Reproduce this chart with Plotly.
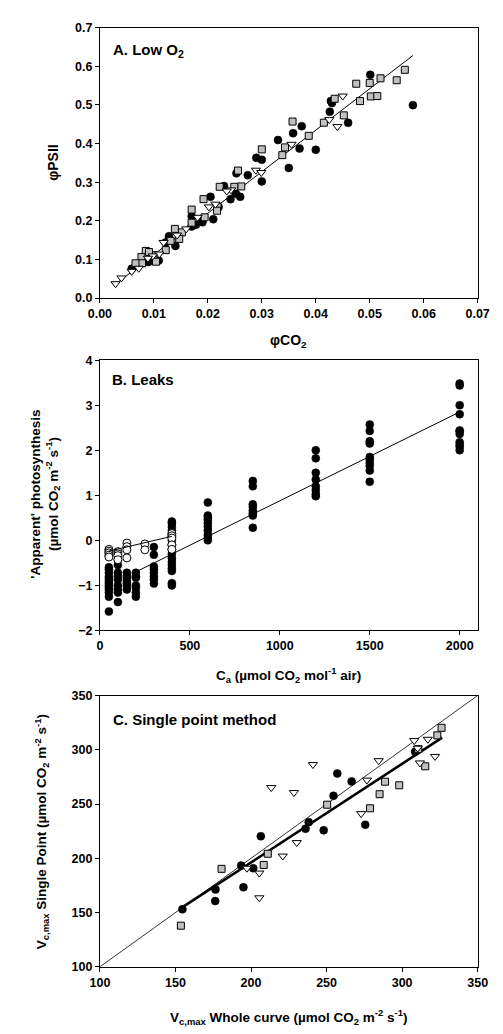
import plotly.graph_objects as go

# ---------------- Panel A data ----------------
a_circ_x = [0.0501, 0.058, 0.0428, 0.0430, 0.0426, 0.046, 0.0374, 0.0358, 0.033, 0.037, 0.040, 0.035,
            0.029, 0.030, 0.030, 0.0274, 0.0253, 0.023, 0.0205, 0.021, 0.0242, 0.0252, 0.026, 0.022,
            0.019, 0.0178, 0.017, 0.017, 0.0128, 0.014, 0.0122, 0.0109, 0.009, 0.0069, 0.0059]
a_circ_y = [0.578, 0.4995, 0.51, 0.505, 0.4826, 0.4537, 0.445, 0.427, 0.409, 0.387, 0.384, 0.337,
            0.363, 0.358, 0.302, 0.318, 0.323, 0.29, 0.262, 0.204, 0.256, 0.27, 0.262, 0.236,
            0.196, 0.19, 0.185, 0.212, 0.16, 0.135, 0.144, 0.097, 0.093, 0.083, 0.076]

a_sq_x = [0.0565, 0.055, 0.052, 0.050, 0.0475, 0.0502, 0.0514, 0.0482, 0.0435, 0.0452, 0.0415, 0.0357,
          0.0387, 0.0343, 0.0338, 0.030, 0.0256, 0.0262, 0.0249, 0.0222, 0.0218, 0.0217, 0.0192, 0.0194,
          0.017, 0.017, 0.0152, 0.0147, 0.0139, 0.0131, 0.0122, 0.0099, 0.0085, 0.0091, 0.0077, 0.0078,
          0.0066, 0.0104]
a_sq_y = [0.591, 0.564, 0.569, 0.557, 0.555, 0.522, 0.523, 0.51, 0.516, 0.473, 0.454, 0.457,
          0.42, 0.39, 0.37, 0.385, 0.33, 0.289, 0.288, 0.288, 0.236, 0.226, 0.256, 0.209,
          0.229, 0.195, 0.17, 0.153, 0.179, 0.148, 0.124, 0.111, 0.122, 0.119, 0.106, 0.09,
          0.09, 0.094]

a_tri_x = [0.045, 0.0425, 0.044, 0.0355, 0.0289, 0.0299, 0.0243, 0.0235, 0.0214, 0.0202, 0.0181,
           0.016, 0.0143, 0.0118, 0.011, 0.0098, 0.0089, 0.0072, 0.0059, 0.004, 0.0029]
a_tri_y = [0.523, 0.462, 0.444, 0.398, 0.331, 0.325, 0.28, 0.277, 0.243, 0.236, 0.209,
           0.179, 0.163, 0.144, 0.114, 0.109, 0.103, 0.077, 0.069, 0.052, 0.037]

a_fit_x = [0.003, 0.058]
a_fit_y = [0.037, 0.628]

# ---------------- Panel B data ----------------
b_cols = {
    50: [-0.6, -0.65, -0.72, -0.8, -0.85, -0.9, -0.95, -1.0, -1.05, -1.1, -1.16, -1.25, -1.58],
    100: [-0.43, -0.55, -0.72, -0.8, -0.87, -1.0, -1.09, -1.16, -1.37],
    150: [-0.72, -0.78, -0.83, -0.9, -0.95, -1.01, -1.09],
    200: [-0.72, -0.8, -0.83, -1.0, -1.05, -1.16, -1.25],
    300: [-0.15, -0.32, -0.58, -0.65, -0.72, -0.8, -0.87, -0.96],
    400: [0.42, 0.38, 0.3, 0.22, 0.15, 0.08, 0.0, -0.1, -0.2, -0.3, -0.4, -0.48, -0.55, -0.62,
          -0.68, -0.95, -1.0],
    600: [0.84, 0.55, 0.5, 0.45, 0.38, 0.3, 0.22, 0.12, 0.05, 0.0],
    850: [1.32, 1.2, 0.8, 0.74, 0.66, 0.6, 0.55, 0.28],
    1200: [2.0, 1.82, 1.5, 1.35, 1.2, 1.12, 1.03, 0.98],
    1500: [2.57, 2.43, 2.2, 2.15, 1.85, 1.8, 1.72, 1.65, 1.55, 1.3],
    2000: [3.48, 3.44, 3.0, 2.8, 2.44, 2.42, 2.36, 2.18, 2.12, 2.08, 2.0],
}
b_open = {
    50: [-0.2, -0.24, -0.28, -0.33, -0.37],
    100: [-0.25, -0.3, -0.34, -0.43],
    150: [-0.06, -0.14, -0.21, -0.39],
    250: [-0.08, -0.21],
    400: [0.15, 0.1, 0.05, -0.1, -0.2],
}
b_fit_x = [200, 2000]
b_fit_y = [-0.70, 2.85]
b_open_fit_x = [50, 400]
b_open_fit_y = [-0.24, 0.09]

# ---------------- Panel C data ----------------
c_circ_x = [154.6, 176.5, 176.3, 195, 193.5, 201.5, 206.5, 236.1, 238.2, 248.1, 254.6, 257.1, 266.6, 275.6, 308.6]
c_circ_y = [153, 171.2, 160.6, 173.3, 193.3, 190.9, 220.3, 227.3, 233.3, 225.8, 257.6, 278.2, 270.9, 230.9, 298.2]

c_sq_x = [153.6, 180.5, 211.1, 208.4, 250.4, 278.8, 285.1, 288.7, 298.1, 315.3, 310.7, 323.3, 326.1]
c_sq_y = [137.9, 190.3, 204.2, 193.9, 249.4, 246.1, 259.1, 270.6, 267.3, 284.8, 300.6, 313.3, 320.3]

c_tri_x = [213.4, 228.4, 241, 230.3, 221, 197.3, 205.5, 205.5, 272.9, 276.7, 284.5, 308, 317, 311.8, 321.8, 310.3]
c_tri_y = [265.2, 260.6, 286.4, 214.5, 202.1, 190.9, 186.4, 163.6, 241.2, 272.1, 290, 308.5, 309.7, 287.9, 293.9, 301.5]

c_one_x = [100, 350]
c_one_y = [100, 350]
c_fit_x = [154.2, 326.5]
c_fit_y = [154.5, 311.2]

# ---------------- figure ----------------
W, H = 503, 1034
FONT = "Liberation Sans, Arial, sans-serif"
GRAY = "#c0c0c0"

fig = go.Figure()

def circ(size=8):
    return dict(symbol="circle", size=size, color="black", line=dict(color="black", width=0.5))

def sq():
    return dict(symbol="square", size=7, color=GRAY, line=dict(color="black", width=1))

def tri():
    return dict(symbol="triangle-down", size=8, color="white", line=dict(color="black", width=1))

# Panel A
fig.add_trace(go.Scatter(x=a_fit_x, y=a_fit_y, mode="lines", line=dict(color="black", width=1),
                         xaxis="x", yaxis="y"))
fig.add_trace(go.Scatter(x=a_circ_x, y=a_circ_y, mode="markers", marker=circ(), xaxis="x", yaxis="y"))
fig.add_trace(go.Scatter(x=a_sq_x, y=a_sq_y, mode="markers", marker=sq(), xaxis="x", yaxis="y"))
fig.add_trace(go.Scatter(x=a_tri_x, y=a_tri_y, mode="markers", marker=tri(), xaxis="x", yaxis="y"))

# Panel B
bx, by = [], []
for k, vals in b_cols.items():
    bx += [k] * len(vals)
    by += vals
ox, oy = [], []
for k, vals in b_open.items():
    ox += [k] * len(vals)
    oy += vals
fig.add_trace(go.Scatter(x=bx, y=by, mode="markers", marker=circ(), xaxis="x2", yaxis="y2"))
fig.add_trace(go.Scatter(x=ox, y=oy, mode="markers",
                         marker=dict(symbol="circle", size=8, color="white", line=dict(color="black", width=1)),
                         xaxis="x2", yaxis="y2"))
fig.add_trace(go.Scatter(x=b_fit_x, y=b_fit_y, mode="lines", line=dict(color="black", width=1),
                         xaxis="x2", yaxis="y2"))
fig.add_trace(go.Scatter(x=b_open_fit_x, y=b_open_fit_y, mode="lines", line=dict(color="black", width=1),
                         xaxis="x2", yaxis="y2"))

# Panel C
fig.add_trace(go.Scatter(x=c_one_x, y=c_one_y, mode="lines", line=dict(color="black", width=0.8),
                         xaxis="x3", yaxis="y3"))
fig.add_trace(go.Scatter(x=c_fit_x, y=c_fit_y, mode="lines", line=dict(color="black", width=2.6),
                         xaxis="x3", yaxis="y3"))
fig.add_trace(go.Scatter(x=c_circ_x, y=c_circ_y, mode="markers", marker=circ(), xaxis="x3", yaxis="y3"))
fig.add_trace(go.Scatter(x=c_sq_x, y=c_sq_y, mode="markers", marker=sq(), xaxis="x3", yaxis="y3"))
fig.add_trace(go.Scatter(x=c_tri_x, y=c_tri_y, mode="markers", marker=tri(), xaxis="x3", yaxis="y3"))

xd = [92.3 / W, 489 / W]

def ydom(top, bot):
    return [1 - bot / H, 1 - top / H]

tickfont = dict(family=FONT, size=12.5, color="black", weight="bold")
common = dict(showline=True, linecolor="black", linewidth=1, mirror=True, ticks="outside",
              ticklen=4, tickcolor="black", tickwidth=1, showgrid=False, zeroline=False,
              tickfont=tickfont)

fig.update_layout(
    width=W, height=H, margin=dict(l=0, r=0, t=0, b=0),
    paper_bgcolor="white", plot_bgcolor="white", showlegend=False,
    xaxis=dict(domain=xd, range=[0, 0.07], dtick=0.01, tickformat=".2f", anchor="y", **common),
    yaxis=dict(domain=ydom(21, 295), range=[0, 0.7], dtick=0.1, tickformat=".1f", anchor="x", **common),
    xaxis2=dict(domain=xd, range=[0, 2100], tickvals=[0, 500, 1000, 1500, 2000], anchor="y2", **common),
    yaxis2=dict(domain=ydom(358, 632), range=[-2, 4], dtick=1, anchor="x2", **common),
    xaxis3=dict(domain=xd, range=[100, 350], dtick=50, anchor="y3", **common),
    yaxis3=dict(domain=ydom(698, 973), range=[100, 350], dtick=50, anchor="x3", **common),
)

def ann(text, x, y, size=12, angle=0, xanchor="center"):
    fig.add_annotation(text=text, x=x / W, y=1 - y / H, xref="paper", yref="paper",
                       showarrow=False, textangle=angle, xanchor=xanchor, yanchor="middle",
                       font=dict(family=FONT, size=size, color="black", weight="bold"))

# panel labels
ann("A. Low O<sub>2</sub>", 104, 44, size=15, xanchor="left")
ann("B. Leaks", 103, 378, size=15, xanchor="left")
ann("C. Single point method", 104, 722, size=15, xanchor="left")

# axis titles
ann("φPSII", 43, 158, size=14, angle=-90)
ann("φCO<sub>2</sub>", 290, 339, size=14)
ann("'Apparent' photosynthesis<br>(µmol CO<sub>2</sub> m<sup>-2</sup> s<sup>-1</sup>)", 35, 494, size=13.5, angle=-90)
ann("C<sub>a</sub> (µmol CO<sub>2</sub> mol<sup>-1</sup> air)", 290, 677, size=13.5)
ann("V<sub>c,max</sub> Single Point (µmol CO<sub>2</sub> m<sup>-2</sup> s<sup>-1</sup>)", 31, 836, size=13.5, angle=-90)
ann("V<sub>c,max</sub> Whole curve (µmol CO<sub>2</sub> m<sup>-2</sup> s<sup>-1</sup>)", 290, 1024, size=13.5)

fig.write_html("out.html")
